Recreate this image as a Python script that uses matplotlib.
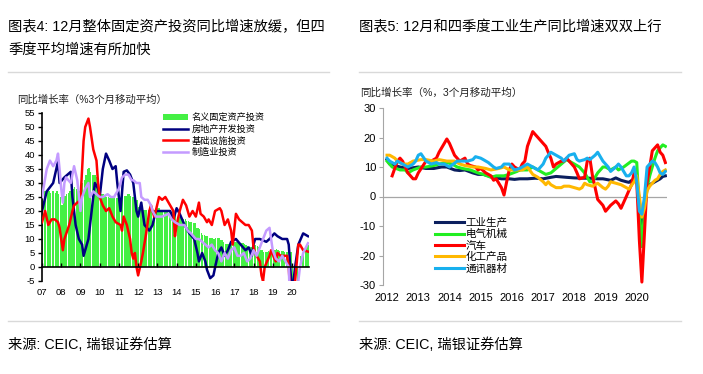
import pandas as pd
import matplotlib
matplotlib.use('Agg')
import matplotlib.pyplot as plt
from matplotlib.lines import Line2D

plt.rcParams['font.family'] = ['Liberation Sans', 'Noto Sans CJK SC']
plt.rcParams['axes.unicode_minus'] = False

W, H = 703, 374

# ---------------- left chart data (3mma yoy, %) ----------------
fai_start = '2007-01'
fai_vals = [26, 27, 27, 27, 27, 26.5, 27, 27, 26.5, 27, 26, 25,
            22, 24, 25.5, 26, 26.5, 27, 27.5, 28, 28.5, 28, 27, 27,
            28, 30, 31, 33, 35, 35.5, 34, 33, 33, 33, 32, 31,
            26, 26, 26, 25.5, 25, 25, 24.5, 24.5, 24.5, 24.5, 24.5, 24.5,
            24.5, 25, 25.5, 25.5, 25.5, 26, 26, 25.5, 25, 25, 24.5, 24,
            21.5, 21, 20.5, 20.5, 20.5, 20.5, 20.5, 20.5, 20.5, 20.5, 20.5, 20.5,
            21, 21, 20.5, 20.5, 20, 20, 20, 20, 20, 20, 19.8, 19.6,
            17.9, 17.9, 17.6, 17.3, 17.2, 17, 16.5, 16.3, 16.1, 16, 15.8, 15.7,
            13.9, 13.9, 13.5, 12.0, 11.4, 11.4, 11.2, 10.9, 10.3, 10.2, 10.2, 10.0,
            10.2, 10.2, 10.5, 9.6, 9.6, 9.0, 8.1, 8.1, 8.2, 8.3, 8.3, 8.1,
            8.9, 8.9, 9.2, 8.9, 8.6, 8.6, 8.3, 7.8, 7.5, 7.3, 7.2, 7.2,
            7.9, 7.9, 7.5, 7.0, 6.1, 6.0, 5.5, 5.3, 5.4, 5.7, 5.9, 5.9,
            6.1, 6.1, 6.3, 6.1, 5.6, 5.8, 5.7, 5.5, 5.4, 5.2, 5.2, 5.4,
            -24, -24, -16, -8, 0, 4, 5, 6, 7, 8, 8]

re_months = ['2007-01', '2007-04', '2007-08', '2007-11', '2007-12', '2008-03', '2008-07', '2008-08',
             '2008-10', '2008-12', '2009-02', '2009-03', '2009-06', '2009-08', '2009-10', '2009-12',
             '2010-01', '2010-03', '2010-05', '2010-07', '2010-09', '2010-11', '2010-12', '2011-02',
             '2011-04', '2011-06', '2011-08', '2011-10', '2011-12', '2012-01', '2012-03', '2012-05',
             '2012-08', '2012-10', '2012-12', '2013-04', '2013-09', '2013-11', '2014-01', '2014-03',
             '2014-06', '2014-09', '2014-12', '2015-02', '2015-03', '2015-05', '2015-07', '2015-08',
             '2015-10', '2015-12', '2016-03', '2016-05', '2016-07', '2016-09', '2016-11', '2017-02',
             '2017-05', '2017-08', '2017-10', '2017-12', '2018-01', '2018-02', '2018-05', '2018-09',
             '2018-11', '2019-02', '2019-04', '2019-07', '2019-10', '2019-11', '2019-12', '2020-01',
             '2020-03', '2020-05', '2020-08', '2020-11']
re_vals = [20, 27, 30, 37.7, 30, 32, 34, 25,
           15, 10, 8, 4, 10, 20, 30, 28,
           25, 35, 40.5, 38, 35, 36, 30, 20,
           34, 34.5, 33, 30, 20, 18, 23, 15,
           13, 15, 20, 20, 20, 17, 21, 19,
           15, 12, 10, 5, 2, 5, 2, -1,
           -4, -3, 5, 7, 4, 6, 9, 10,
           8, 6, 7, 4, 8, 10, 10, 9,
           10, 12, 11, 10, 10, 8, 0, -10,
           0, 8, 12, 11]

infra_months = ['2007-01', '2007-03', '2007-05', '2007-07', '2007-09', '2007-11', '2007-12', '2008-02',
                '2008-03', '2008-06', '2008-08', '2008-09', '2008-11', '2009-01', '2009-02', '2009-03',
                '2009-04', '2009-06', '2009-07', '2009-09', '2009-11', '2009-12', '2010-01', '2010-03',
                '2010-05', '2010-07', '2010-09', '2010-11', '2011-02', '2011-03', '2011-04', '2011-06',
                '2011-08', '2011-09', '2011-10', '2011-11', '2011-12', '2012-01', '2012-03', '2012-04',
                '2012-06', '2012-08', '2012-09', '2012-11', '2012-12', '2013-02', '2013-04', '2013-06',
                '2013-09', '2013-11', '2013-12', '2014-01', '2014-03', '2014-05', '2014-07', '2014-09',
                '2014-11', '2015-01', '2015-03', '2015-04', '2015-06', '2015-08', '2015-09', '2015-11',
                '2016-01', '2016-04', '2016-05', '2016-07', '2016-09', '2016-10', '2016-11', '2016-12',
                '2017-02', '2017-04', '2017-08', '2017-10', '2017-12', '2018-01', '2018-02', '2018-05',
                '2018-06', '2018-07', '2018-08', '2018-11', '2018-12', '2019-02', '2019-03', '2019-04',
                '2019-06', '2019-09', '2019-10', '2019-11', '2020-01', '2020-03', '2020-05', '2020-06',
                '2020-08', '2020-11']
infra_vals = [16, 20, 15, 17, 17, 16, 14, 6,
              10, 15, 20, 22, 23, 24, 35, 45,
              50, 53, 50, 42, 38, 30, 25, 22,
              20, 21, 18, 16, 15, 13, 18, 15,
              10, 5, 3, 5, 0, -3, 2, 5,
              12, 20, 22, 18, 20, 25, 24, 25,
              22, 20, 11, 15, 20, 24, 22, 18,
              20, 18, 23, 19, 18, 16, 17, 15,
              20, 21, 20, 15, 17, 15, 13, 8,
              19, 17, 15, 15, 13, 7, 5, 2,
              -3, -5, 0, 4, 6, 3, 2, 5,
              4, 4, 4, 0, -20, -5, 8, 8,
              6, 5.5]

mfg_months = ['2007-01', '2007-04', '2007-06', '2007-08', '2007-09', '2007-10', '2007-11', '2007-12',
              '2008-01', '2008-02', '2008-03', '2008-04', '2008-07', '2008-08', '2008-09', '2008-11',
              '2009-01', '2009-02', '2009-04', '2009-06', '2009-07', '2009-09', '2009-11', '2010-01',
              '2010-03', '2010-06', '2010-08', '2010-10', '2011-01', '2011-03', '2011-05', '2011-07',
              '2011-09', '2011-10', '2011-12', '2012-02', '2012-03', '2012-05', '2012-07', '2012-09',
              '2012-10', '2012-12', '2013-02', '2013-04', '2013-08', '2013-10', '2013-12', '2014-03',
              '2014-06', '2014-08', '2014-10', '2015-01', '2015-03', '2015-05', '2015-07', '2015-09',
              '2015-11', '2016-01', '2016-03', '2016-05', '2016-07', '2016-09', '2016-11', '2017-01',
              '2017-03', '2017-05', '2017-07', '2017-09', '2017-11', '2018-01', '2018-03', '2018-05',
              '2018-07', '2018-09', '2018-11', '2018-12', '2019-01', '2019-03', '2019-05', '2019-07',
              '2019-09', '2019-11', '2019-12', '2020-04', '2020-06', '2020-08', '2020-11']
mfg_vals = [25, 35, 38, 36, 37, 38, 40.5, 35,
            28, 23, 30, 32, 30, 33, 36, 31,
            20, 25, 28, 30, 25, 27, 26, 25,
            25, 26, 25, 25, 28, 32, 33, 33,
            31, 31, 30, 30, 25, 24, 24, 22,
            20, 18, 18, 18, 19, 17, 16, 15,
            15, 13, 12, 10, 10, 9, 8, 7,
            8, 6, 5, 2, 5, 3, 6, 7,
            4, 4, 5, 2, 3, 6, 4, 7,
            10, 13, 14, 10, 6, 3, 2, 4,
            2, 0, -15, -10, 0, 5, 8.5]

left_years = ['07', '08', '09', '10', '11', '12', '13', '14', '15', '16', '17', '18', '19', '20']

# ---------------- right chart data (3mma yoy, %) ----------------
ip_months = ['2012-01', '2012-02', '2012-06', '2012-09', '2013-01', '2013-04', '2013-07', '2013-10',
             '2013-12', '2014-03', '2014-05', '2014-07', '2014-10', '2014-12', '2015-02', '2015-06',
             '2015-09', '2015-12', '2016-02', '2016-04', '2016-07', '2016-10', '2017-01', '2017-04',
             '2017-06', '2017-10', '2018-01', '2018-05', '2018-07', '2018-10', '2018-12', '2019-03',
             '2019-05', '2019-07', '2019-09', '2019-10', '2019-12', '2020-01', '2020-02', '2020-03',
             '2020-04', '2020-05', '2020-06', '2020-07', '2020-08', '2020-09', '2020-10', '2020-11',
             '2020-12']
ip_vals = [12.5, 11, 10, 9.5, 10, 9.5, 9.5, 10,
           10, 9, 8.8, 9, 8, 7.5, 7.5, 6.5,
           6, 6, 5.8, 6, 6, 6.2, 6, 6.5,
           6.8, 6.5, 6.3, 6.2, 6.2, 6, 6, 5.5,
           6.3, 5.5, 5, 4.8, 6, 6, -2, -9.5,
           -3, 3, 4, 4.5, 5, 5.5, 6, 6.8,
           7]

elec_months = ['2012-01', '2012-03', '2012-06', '2012-08', '2012-09', '2012-11', '2013-02', '2013-04',
               '2013-07', '2013-09', '2013-12', '2014-02', '2014-04', '2014-06', '2014-09', '2014-12',
               '2015-02', '2015-05', '2015-07', '2015-10', '2015-12', '2016-03', '2016-04', '2016-07',
               '2016-09', '2016-11', '2017-01', '2017-02', '2017-04', '2017-06', '2017-08', '2017-10',
               '2017-11', '2018-01', '2018-03', '2018-05', '2018-06', '2018-07', '2018-08', '2018-10',
               '2018-12', '2019-01', '2019-03', '2019-05', '2019-06', '2019-08', '2019-11', '2019-12',
               '2020-01', '2020-02', '2020-03', '2020-04', '2020-05', '2020-06', '2020-07', '2020-08',
               '2020-09', '2020-10', '2020-11', '2020-12']
elec_vals = [12, 10, 9, 9, 8, 9, 10, 10,
             10.5, 11, 11.5, 11, 10, 9.5, 9, 8,
             7.5, 6.5, 7, 7, 7.5, 8.5, 9, 9,
             10, 9, 8, 7.5, 8, 9.5, 11, 12.5,
             12, 11, 10, 8, 6.5, 5, 5, 8,
             10, 10, 9, 10, 9, 10, 12, 12,
             11.5, -5, -17, -5, 3, 7, 10, 13,
             15.5, 16.5, 17.5, 17]

auto_months = ['2012-03', '2012-05', '2012-06', '2012-07', '2012-09', '2012-11', '2012-12', '2013-01',
               '2013-04', '2013-06', '2013-08', '2013-09', '2013-11', '2013-12', '2014-01', '2014-03',
               '2014-05', '2014-06', '2014-07', '2014-08', '2014-09', '2014-11', '2014-12', '2015-01',
               '2015-03', '2015-05', '2015-06', '2015-07', '2015-09', '2015-10', '2015-11', '2015-12',
               '2016-01', '2016-02', '2016-04', '2016-05', '2016-06', '2016-07', '2016-09', '2016-10',
               '2016-11', '2017-01', '2017-02', '2017-03', '2017-04', '2017-05', '2017-06', '2017-08',
               '2017-09', '2017-10', '2017-11', '2018-01', '2018-02', '2018-03', '2018-05', '2018-06',
               '2018-07', '2018-08', '2018-09', '2018-10', '2018-12', '2019-01', '2019-03', '2019-05',
               '2019-06', '2019-07', '2019-09', '2019-10', '2019-11', '2019-12', '2020-01', '2020-02',
               '2020-03', '2020-04', '2020-05', '2020-06', '2020-07', '2020-08', '2020-09', '2020-10',
               '2020-11', '2020-12']
auto_vals = [7, 12, 13, 12, 8, 6, 6, 8,
             12, 12, 13, 15, 18, 19.5, 18, 14,
             12, 12.5, 13, 11, 10.5, 10, 9, 9.5,
             8, 7, 5.5, 6, 3, 0.5, 5, 9,
             11, 10, 9, 11, 12, 17, 22, 21,
             20, 18, 17, 15, 13, 10, 11, 12,
             12, 13, 12, 10, 8, 6, 6.5, 12,
             13, 7, 3, -1, -3, -5, -3, -1.5,
             -2.5, -4, 0, 2, 4, 8, 5, -15,
             -29, -12, 5, 10, 15.5, 16.5, 17.5, 15,
             14, 11.5]

chem_months = ['2012-01', '2012-02', '2012-04', '2012-05', '2012-07', '2012-09', '2012-11', '2013-02',
               '2013-04', '2013-07', '2013-09', '2013-12', '2014-03', '2014-05', '2014-07', '2014-10',
               '2014-12', '2015-03', '2015-05', '2015-08', '2015-10', '2015-12', '2016-03', '2016-05',
               '2016-07', '2016-09', '2016-11', '2017-01', '2017-02', '2017-03', '2017-04', '2017-06',
               '2017-08', '2017-09', '2017-11', '2018-01', '2018-03', '2018-04', '2018-05', '2018-06',
               '2018-08', '2018-10', '2018-12', '2019-01', '2019-02', '2019-03', '2019-05', '2019-07',
               '2019-09', '2019-10', '2019-12', '2020-01', '2020-02', '2020-03', '2020-04', '2020-05',
               '2020-06', '2020-07', '2020-08', '2020-09', '2020-10', '2020-11', '2020-12']
chem_vals = [14, 14, 13, 12, 11, 11, 12, 12.5,
             12.5, 12, 12.5, 12, 12, 11, 10.5, 10,
             10, 9.5, 9, 9.5, 10, 9, 9, 9,
             10, 7.5, 6.5, 5, 4, 5, 4, 3,
             3, 3.5, 3.5, 3, 2.5, 3, 4.5, 4,
             3.5, 4.5, 3, 2.5, 3.5, 5, 4.5, 4,
             3, 2.5, 5, 7, 0, -7, -4, 2,
             3.5, 4.5, 5.5, 6, 7.5, 8.5, 9]

comm_months = ['2012-01', '2012-02', '2012-04', '2012-05', '2012-07', '2012-09', '2012-11', '2012-12',
               '2013-01', '2013-02', '2013-04', '2013-06', '2013-08', '2013-09', '2013-11', '2014-01',
               '2014-04', '2014-06', '2014-08', '2014-10', '2014-11', '2015-01', '2015-02', '2015-04',
               '2015-06', '2015-07', '2015-09', '2015-10', '2015-12', '2016-01', '2016-02', '2016-04',
               '2016-05', '2016-06', '2016-07', '2016-09', '2016-11', '2017-01', '2017-02', '2017-04',
               '2017-06', '2017-08', '2017-09', '2017-10', '2017-11', '2018-01', '2018-02', '2018-03',
               '2018-05', '2018-06', '2018-07', '2018-09', '2018-10', '2018-12', '2019-02', '2019-03',
               '2019-05', '2019-06', '2019-07', '2019-09', '2019-10', '2019-11', '2019-12', '2020-01',
               '2020-02', '2020-03', '2020-04', '2020-05', '2020-06', '2020-07', '2020-08', '2020-09',
               '2020-10', '2020-11', '2020-12']
comm_vals = [13, 12, 11, 12, 11, 10, 11, 12,
             14, 14.5, 12, 11, 11.5, 11, 11, 10,
             12, 12, 12, 12.5, 13.5, 13, 12.5, 11.5,
             10, 9.5, 10, 11, 11, 10, 9, 9.5,
             10, 10.5, 11, 10, 9, 11, 13, 15,
             14, 13, 12, 13, 14, 14.5, 12.5, 12,
             12.5, 13, 12.5, 14, 15, 12, 10, 8.5,
             10, 11, 10, 7, 7, 8, 10, 5,
             -5, -6, 0, 10, 11, 12, 11.5, 10,
             8, 7.5, 8.5]

right_years = ['2012', '2013', '2014', '2015', '2016', '2017', '2018', '2019', '2020']


def px_x(p):
    return p / W


def px_y(p):
    return 1 - p / H


fig = plt.figure(figsize=(W / 100, H / 100), dpi=100)

# titles, separators and source notes
fig.text(px_x(8), px_y(27), '图表4: 12月整体固定资产投资同比增速放缓，但四', fontsize=10.3, va='center')
fig.text(px_x(8), px_y(50), '季度平均增速有所加快', fontsize=10.3, va='center')
fig.text(px_x(359), px_y(27), '图表5: 12月和四季度工业生产同比增速双双上行', fontsize=10.3, va='center')
for x0, x1 in [(8, 329), (359, 681)]:
    for yy in (72, 321):
        fig.add_artist(Line2D([px_x(x0), px_x(x1)], [px_y(yy), px_y(yy)], color='#D9D9D9', lw=1))
    fig.text(px_x(x0), px_y(345), '来源: CEIC, 瑞银证券估算', fontsize=10.3, va='center')

fig.text(px_x(17), px_y(100), '同比增长率（%3个月移动平均）', fontsize=7.5, va='center', color='#222222')
fig.text(px_x(360), px_y(93), '同比增长率（%，3个月移动平均）', fontsize=7.6, va='center', color='#222222')

# ---------------- left chart ----------------
ax1 = fig.add_axes([px_x(42), px_y(281), 267 / W, 168 / H])
fai_dates = pd.date_range(fai_start, periods=len(fai_vals), freq='MS')
bars = ax1.bar(fai_dates, fai_vals, width=25, align='edge', color='#44F044', linewidth=0,
               label='名义固定资产投资', zorder=1)
l_re, = ax1.plot(pd.to_datetime(re_months), re_vals, color='#000080', lw=1.8,
                 label='房地产开发投资', zorder=2)
l_in, = ax1.plot(pd.to_datetime(infra_months), infra_vals, color='#FF0000', lw=1.8,
                 label='基础设施投资', zorder=3)
l_mf, = ax1.plot(pd.to_datetime(mfg_months), mfg_vals, color='#C49BFF', lw=1.8,
                 label='制造业投资', zorder=4)

ax1.set_ylim(-5, 55)
ax1.set_yticks(range(-5, 56, 5))
ax1.set_xlim(pd.Timestamp('2007-01-01'), pd.Timestamp('2020-11-20'))
year_ticks = pd.date_range('2007-01-01', '2020-01-01', freq='YS')
ax1.set_xticks(year_ticks)
ax1.set_xticklabels(left_years)
for s in ('top', 'right'):
    ax1.spines[s].set_visible(False)
ax1.spines['bottom'].set_position(('data', 0))
ax1.spines['bottom'].set_zorder(5)
ax1.spines['left'].set_linewidth(1.2)
ax1.spines['bottom'].set_linewidth(1.2)
ax1.tick_params(axis='y', direction='out', length=3, width=1, labelsize=6.8, pad=2)
ax1.tick_params(axis='x', direction='in', length=3, width=1, labelsize=6.8, pad=15)
ax1.patch.set_alpha(0)

ax1.legend(handles=[bars, l_re, l_in, l_mf], loc='upper left',
           bbox_to_anchor=(px_x(163), px_y(113)), bbox_transform=fig.transFigure,
           frameon=False, fontsize=6.6, handlelength=2.7, handletextpad=0.45,
           labelspacing=0.28, borderpad=0, borderaxespad=0)

# ---------------- right chart ----------------
ax2 = fig.add_axes([px_x(383), px_y(285), 284 / W, 177 / H])
ax2.axhline(0, color='#A6A6A6', lw=0.9, zorder=0)
lines = []
for months, vals, color, name in [(ip_months, ip_vals, '#0B1F5E', '工业生产'),
                                  (elec_months, elec_vals, '#22EE22', '电气机械'),
                                  (auto_months, auto_vals, '#FF0000', '汽车'),
                                  (chem_months, chem_vals, '#FFB800', '化工产品'),
                                  (comm_months, comm_vals, '#18B0EE', '通讯器材')]:
    ln, = ax2.plot(pd.to_datetime(months), vals, color=color, lw=2.2, label=name)
    lines.append(ln)

ax2.set_ylim(-30, 30)
ax2.set_yticks(range(-30, 31, 10))
ax2.set_xlim(pd.Timestamp('2011-11-15'), pd.Timestamp('2020-12-20'))
ax2.set_xticks(pd.date_range('2012-01-01', '2020-01-01', freq='YS'))
ax2.set_xticklabels(right_years)
for s in ('top', 'right', 'bottom'):
    ax2.spines[s].set_visible(False)
ax2.spines['left'].set_color('#A6A6A6')
ax2.tick_params(axis='y', direction='out', length=3, color='#A6A6A6', labelsize=8, pad=2)
ax2.tick_params(axis='x', length=0, labelsize=8, pad=6)
ax2.patch.set_alpha(0)

ax2.legend(handles=lines, loc='upper left',
           bbox_to_anchor=(px_x(435), px_y(218)), bbox_transform=fig.transFigure,
           frameon=False, fontsize=7.6, handlelength=2.7, handletextpad=0.2,
           labelspacing=0.12, borderpad=0, borderaxespad=0)

fig.savefig('out.png', dpi=100)
